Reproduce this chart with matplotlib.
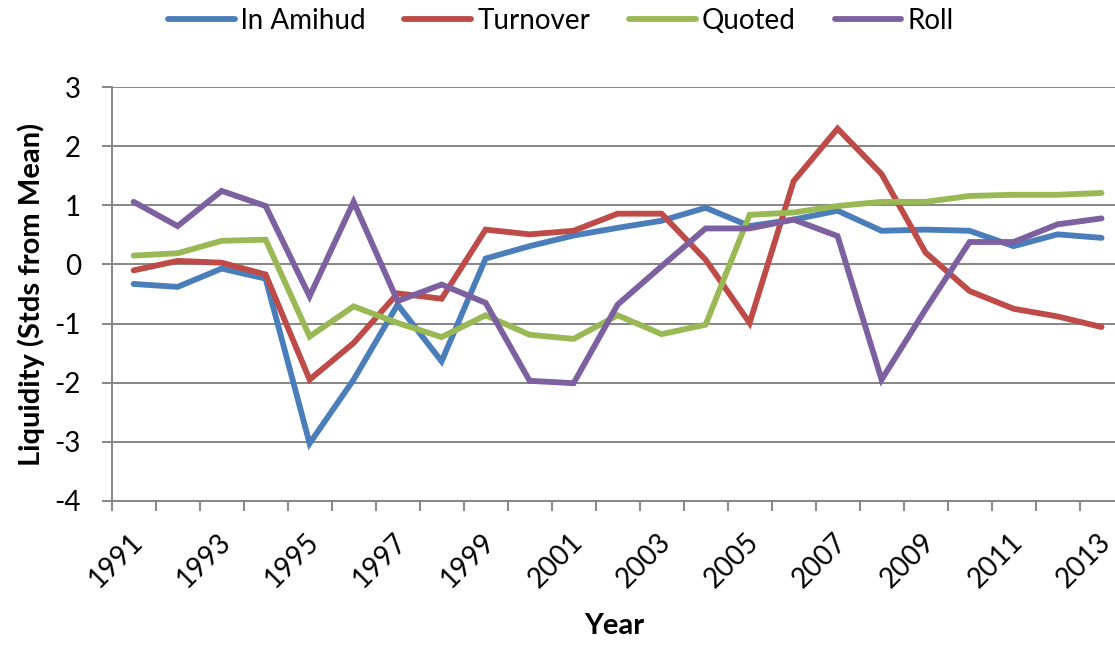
import numpy as np
import matplotlib
matplotlib.use('Agg')
import matplotlib.pyplot as plt
import matplotlib.transforms as mtransforms

plt.rcParams['font.family'] = ['Lato', 'DejaVu Sans']
plt.rcParams['axes.unicode_minus'] = False

# data
years = list(range(1991, 2014))
amihud = [-0.33, -0.38, -0.07, -0.24, -3.03, -1.95, -0.68, -1.64, 0.10, 0.31, 0.49, 0.62,
          0.74, 0.96, 0.65, 0.76, 0.91, 0.57, 0.59, 0.57, 0.31, 0.51, 0.45]
turnover = [-0.10, 0.06, 0.03, -0.17, -1.95, -1.33, -0.49, -0.58, 0.59, 0.51, 0.57, 0.86,
            0.86, 0.08, -0.99, 1.41, 2.30, 1.53, 0.20, -0.45, -0.75, -0.88, -1.06]
quoted = [0.15, 0.19, 0.40, 0.42, -1.22, -0.71, -0.99, -1.23, -0.86, -1.19, -1.26, -0.86,
          -1.18, -1.02, 0.84, 0.88, 0.99, 1.06, 1.06, 1.16, 1.18, 1.18, 1.21]
roll = [1.06, 0.65, 1.245, 0.99, -0.54, 1.06, -0.62, -0.34, -0.65, -1.97, -2.01, -0.68,
        -0.03, 0.61, 0.61, 0.76, 0.48, -1.95, -0.76, 0.38, 0.38, 0.68, 0.78]

series = [('ln Amihud', amihud, '#4A7EBB'),
          ('Turnover', turnover, '#BE4B48'),
          ('Quoted', quoted, '#98B954'),
          ('Roll', roll, '#7D60A0')]

fig = plt.figure(figsize=(11.15, 6.45), dpi=100)
ax = fig.add_axes([0.1001, 0.2237, 0.9076, 0.641])

x = np.arange(len(years))
for name, vals, c in series:
    ax.plot(x, vals, color=c, lw=4.2, label=name, solid_capstyle='round', solid_joinstyle='miter')

gc = '#868686'
ax.set_ylim(-4, 3)
ax.set_yticks(range(-4, 4))
ax.yaxis.grid(True, color=gc, lw=1.4)
ax.set_axisbelow(True)
ax.tick_params(axis='y', length=7.2, width=1.4, color=gc, labelsize=20, pad=15)

ax.set_xlim(-0.5, len(years) - 0.5)
ax.set_xticks(x[::2])
ax.set_xticklabels([str(y) for y in years[::2]], rotation=45, ha='right', va='center',
                   rotation_mode='anchor')
ax.set_xticks(np.arange(-0.5, len(years), 1), minor=True)
ax.tick_params(axis='x', which='major', length=0, labelsize=20, pad=27)
ax.tick_params(axis='x', which='minor', length=7, width=1.4, color=gc)
shift = mtransforms.ScaledTranslation(5 / 100, 0, fig.dpi_scale_trans)
for lbl in ax.get_xticklabels():
    lbl.set_transform(lbl.get_transform() + shift)

for s in ['top', 'right']:
    ax.spines[s].set_visible(False)
for s in ['left', 'bottom']:
    ax.spines[s].set_color(gc)
    ax.spines[s].set_linewidth(1.4)

ax.set_ylabel('Liquidity (Stds from Mean)', fontsize=21, fontweight='bold')
ax.yaxis.set_label_coords(-0.066, 0.5)
ax.set_xlabel('Year', fontsize=21, fontweight='bold')
ax.xaxis.set_label_coords(0.497, -0.272)

fig.legend(loc='center', bbox_to_anchor=(0.503, 0.968), ncol=4, frameon=False, fontsize=20,
           handlelength=2.4, handletextpad=0.22, columnspacing=1.4)

fig.savefig('out.png', dpi=100)
